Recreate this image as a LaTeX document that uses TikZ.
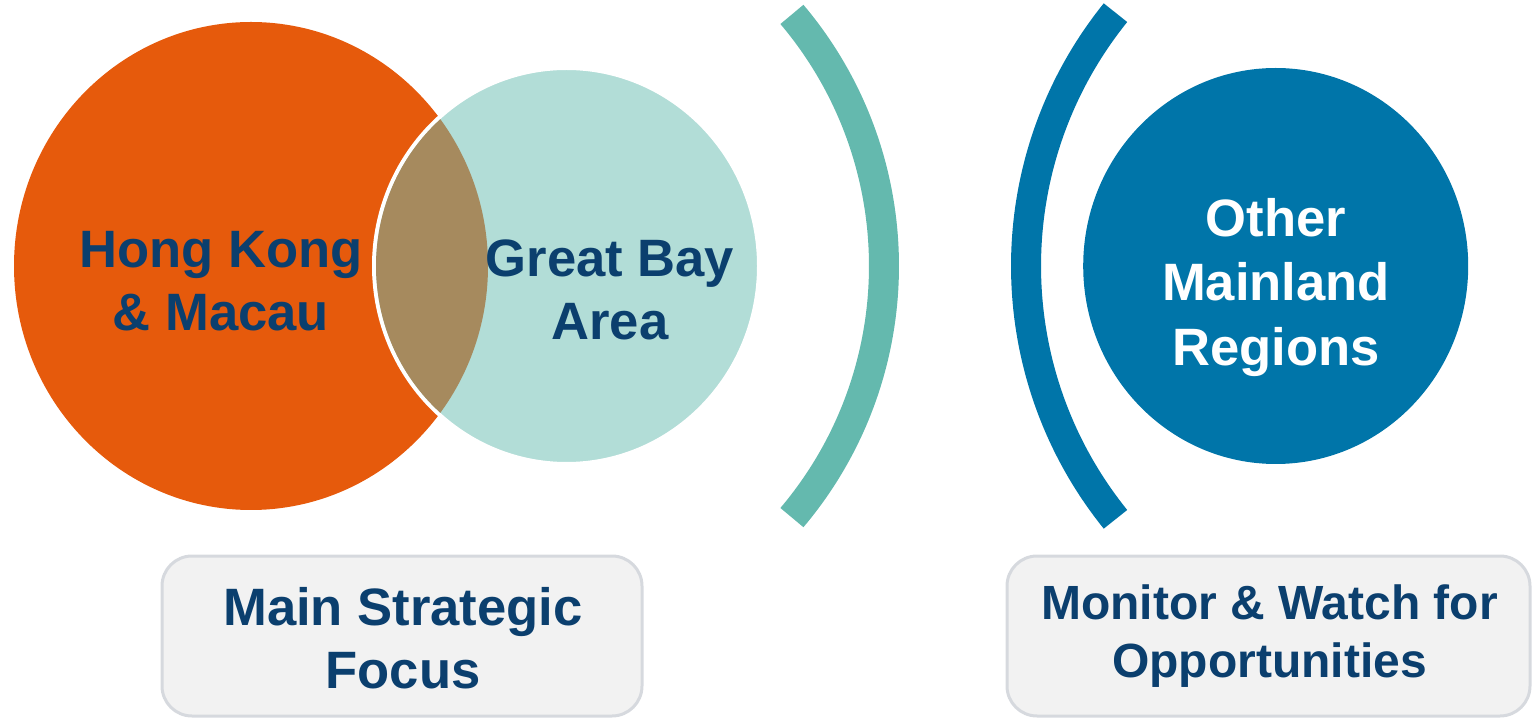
\documentclass[tikz,border=0pt]{standalone}
\usepackage{fontspec}
\setmainfont{Liberation Sans}
\definecolor{orangeC}{HTML}{E65A0C}
\definecolor{tealLight}{HTML}{B2DDD7}
\definecolor{lensC}{HTML}{A68A5E}
\definecolor{tealArc}{HTML}{64B9AE}
\definecolor{blueC}{HTML}{0075A9}
\definecolor{navyT}{HTML}{0B3F6E}
\definecolor{boxFill}{HTML}{F2F2F2}
\definecolor{boxLine}{HTML}{D6D9DE}
\begin{document}
\begin{tikzpicture}[x=0.5pt,y=-0.5pt,
  lbl/.style={font=\bfseries\fontsize{26.3}{31.5}\selectfont, text=navyT, align=center, inner sep=0pt},
  wlbl/.style={lbl, text=white, font=\bfseries\fontsize{26.3}{32.3}\selectfont},
  slbl/.style={lbl, font=\bfseries\fontsize{24}{29}\selectfont},
  boxstyle/.style={fill=boxFill, draw=boxLine, line width=1.5pt, rounded corners=15pt},
  arcstyle/.style={line width=15pt, line cap=butt}]
\useasboundingbox (0,0) rectangle (1537,721);

% circles
\fill[orangeC] (251,266) ellipse [x radius=237, y radius=244];
\draw[fill=tealLight, draw=white, line width=2pt] (566.5,266) ellipse [x radius=192.5, y radius=198];
\begin{scope}
  \clip (251,266) ellipse [x radius=237, y radius=244];
  \fill[lensC] (566.5,266) ellipse [x radius=190.5, y radius=196];
\end{scope}
\fill[blueC] (1275.7,266) ellipse [x radius=192.5, y radius=198];

% brackets
\draw[arcstyle, draw=tealArc] (494.2,266) ++(40.2:389.8) arc[start angle=40.2, end angle=-40.2, radius=389.8];
\draw[arcstyle, draw=blueC] (1429.4,266) ++(141.1:403.4) arc[start angle=141.1, end angle=218.9, radius=403.4];

% boxes
\draw[boxstyle] (162,556) rectangle (642,716);
\draw[boxstyle] (1007,556) rectangle (1530,716);

% labels
\node[lbl] (hk) at (221,281) {Hong Kong\\\& Macau};
\node[lbl] (gba) at (610,290) {Great Bay\\Area};
\node[wlbl] (omr) at (1276,287.5) {Other\\Mainland\\Regions};
\node[lbl] (msf) at (403,638.5) {Main Strategic\\Focus};
\node[slbl] (mwo) at (1269.5,636) {Monitor \& Watch for\\Opportunities};
\end{tikzpicture}
\end{document}
